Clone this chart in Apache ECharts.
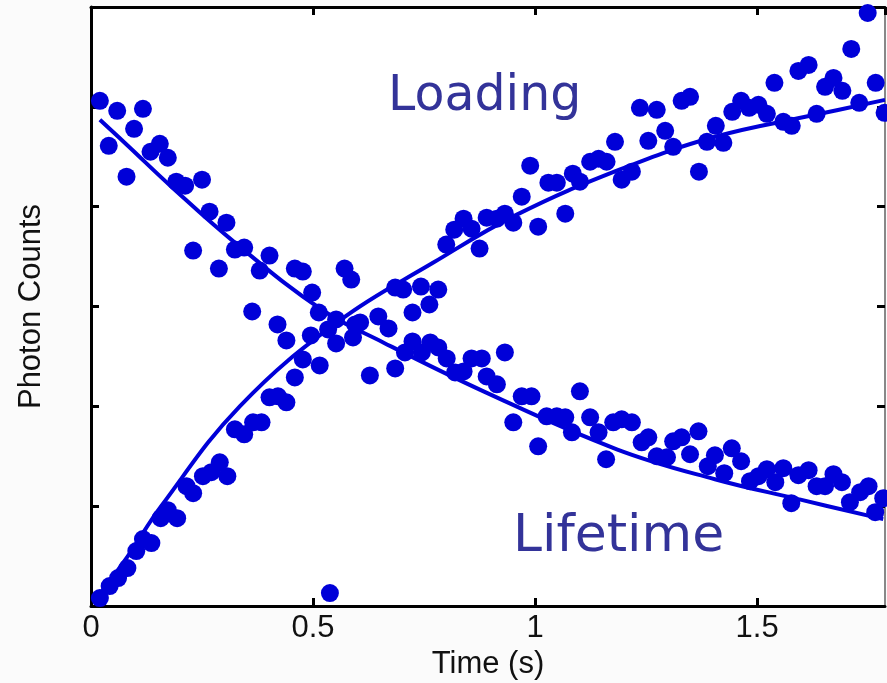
<!DOCTYPE html>
<html>
<head>
<meta charset="utf-8">
<script src="https://cdn.jsdelivr.net/npm/echarts@6/dist/echarts.min.js"></script>
<style>
  html, body { margin: 0; padding: 0; background: #fbfbfb; }
  #chart { width: 887px; height: 683px; }
</style>
</head>
<body>
<div id="chart"></div>
<script>
// measured points, [time (s), photon counts]
const loadingPoints = [
  [0.020, 0.08], [0.042, 0.20], [0.061, 0.28], [0.082, 0.38], [0.102, 0.55], [0.117, 0.67],
  [0.136, 0.63], [0.157, 0.88], [0.173, 0.96], [0.194, 0.88], [0.215, 1.20], [0.230, 1.13],
  [0.252, 1.30], [0.271, 1.34], [0.290, 1.44], [0.307, 1.30], [0.324, 1.77], [0.345, 1.72],
  [0.365, 1.84], [0.384, 1.84], [0.402, 2.09], [0.421, 2.10], [0.440, 2.04], [0.459, 2.29],
  [0.477, 2.47], [0.515, 2.41], [0.538, 0.13], [0.552, 2.63], [0.606, 2.84], [0.685, 3.19],
  [0.703, 3.17], [0.724, 2.94], [0.743, 3.20], [0.762, 3.02], [0.782, 3.17], [0.800, 3.62],
  [0.818, 3.77], [0.839, 3.88], [0.857, 3.78], [0.875, 3.58], [0.891, 3.89], [0.914, 3.88],
  [0.932, 3.93], [0.951, 3.84], [0.970, 4.10], [0.989, 4.41], [1.007, 3.80], [1.030, 4.24],
  [1.049, 4.24], [1.068, 3.93], [1.085, 4.33], [1.101, 4.25], [1.124, 4.45], [1.143, 4.48],
  [1.161, 4.45], [1.180, 4.65], [1.195, 4.27], [1.218, 4.35], [1.236, 4.99], [1.255, 4.66],
  [1.274, 4.97], [1.293, 4.76], [1.311, 4.60], [1.330, 5.06], [1.349, 5.10], [1.369, 4.35],
  [1.387, 4.65], [1.407, 4.81], [1.424, 4.64], [1.444, 4.95], [1.464, 5.06], [1.482, 4.99],
  [1.503, 5.02], [1.522, 4.93], [1.539, 5.24], [1.559, 4.85], [1.578, 4.81], [1.593, 5.36],
  [1.616, 5.42], [1.634, 4.93], [1.653, 5.20], [1.672, 5.29], [1.692, 5.16], [1.712, 5.58],
  [1.730, 5.04], [1.749, 5.94], [1.767, 5.24], [1.787, 4.94]
]

const lifetimePoints = [
  [0.020, 5.06], [0.040, 4.61], [0.059, 4.96], [0.080, 4.30], [0.097, 4.78], [0.117, 4.98],
  [0.134, 4.55], [0.155, 4.63], [0.173, 4.49], [0.192, 4.25], [0.212, 4.21], [0.230, 3.56],
  [0.250, 4.27], [0.267, 3.95], [0.288, 3.38], [0.305, 3.84], [0.324, 3.57], [0.345, 3.59],
  [0.363, 2.95], [0.380, 3.36], [0.402, 3.51], [0.420, 2.82], [0.440, 2.66], [0.459, 3.38],
  [0.477, 3.35], [0.495, 2.71], [0.498, 3.14], [0.513, 2.94], [0.534, 2.77], [0.552, 2.87],
  [0.571, 3.38], [0.586, 3.27], [0.590, 2.69], [0.595, 2.82], [0.628, 2.31], [0.647, 2.90],
  [0.670, 2.78], [0.685, 2.38], [0.707, 2.54], [0.724, 2.65], [0.745, 2.54], [0.764, 2.64],
  [0.782, 2.59], [0.801, 2.48], [0.820, 2.34], [0.839, 2.35], [0.857, 2.48], [0.880, 2.48],
  [0.891, 2.30], [0.914, 2.22], [0.932, 2.54], [0.951, 1.84], [0.970, 2.10], [0.992, 2.10],
  [1.007, 1.60], [1.026, 1.90], [1.049, 1.90], [1.068, 1.89], [1.083, 1.74], [1.101, 2.15],
  [1.124, 1.89], [1.143, 1.74], [1.160, 1.47], [1.176, 1.84], [1.195, 1.87], [1.218, 1.84],
  [1.240, 1.64], [1.255, 1.69], [1.274, 1.50], [1.297, 1.49], [1.311, 1.65], [1.330, 1.69],
  [1.349, 1.52], [1.368, 1.75], [1.389, 1.40], [1.405, 1.51], [1.426, 1.33], [1.443, 1.58],
  [1.464, 1.45], [1.484, 1.25], [1.503, 1.30], [1.522, 1.37], [1.541, 1.24], [1.559, 1.38],
  [1.577, 1.03], [1.593, 1.31], [1.616, 1.36], [1.634, 1.20], [1.653, 1.20], [1.672, 1.32],
  [1.691, 1.24], [1.709, 1.04], [1.732, 1.14], [1.751, 1.20], [1.766, 0.94], [1.784, 1.08]
]

// fitted curves
const loadingFit = [
  [0.012, 0.07], [0.083, 0.50], [0.158, 1.00], [0.335, 2.00], [0.560, 2.86], [0.771, 3.44],
  [0.959, 3.92], [1.190, 4.37], [1.405, 4.70], [1.631, 4.92], [1.788, 5.07]
]
const lifetimeFit = [
  [0.020, 4.87], [0.083, 4.61], [0.181, 4.20], [0.324, 3.64], [0.519, 2.97], [0.658, 2.64],
  [0.884, 2.15], [1.184, 1.57], [1.405, 1.27], [1.593, 1.07], [1.784, 0.87]
]

const xTicks = ['0', '0.5', '1', '1.5']
const xLabel = 'Time (s)'
const yLabel = 'Photon Counts'
const curveLabels = ['Loading', 'Lifetime']

const blue = '#0000d8'
const textFont = 'Liberation Sans, Arial, sans-serif'

const chart = echarts.init(document.getElementById('chart'))

// frame lines: onZero off so the top/right copies stay on their own edges
const frameLine = (color, width) => ({ show: true, onZero: false, lineStyle: { color, width } })
const tick = () => ({ show: true, inside: true, length: 8, lineStyle: { color: '#000', width: 3 } })

const option = {
  animation: false,
  backgroundColor: '#fbfbfb',
  grid: {
    left: 91, right: 2, top: 7, bottom: 77,
    outerBoundsMode: 'none',
    show: true, backgroundColor: '#fff', borderWidth: 0
  },
  xAxis: [
    {
      type: 'value', min: 0, max: 1.788, interval: 0.5,
      position: 'bottom',
      name: xLabel, nameLocation: 'middle', nameGap: 37,
      nameTextStyle: { fontFamily: textFont, fontSize: 31, color: '#111' },
      axisLine: frameLine('#000', 3), axisTick: tick(),
      splitLine: { show: false },
      axisLabel: {
        margin: 7, fontFamily: textFont, fontSize: 31, color: '#111',
        showMaxLabel: false,
        formatter: v => {
          const s = String(Math.round(v * 10) / 10)
          return xTicks.includes(s) ? s : ''
        }
      }
    },
    {
      type: 'value', min: 0, max: 1.788, interval: 0.5,
      position: 'top',
      axisLine: frameLine('#000', 3), axisTick: tick(),
      splitLine: { show: false },
      axisLabel: { show: false }
    }
  ],
  yAxis: [
    {
      type: 'value', min: 0, max: 6, interval: 1,
      position: 'left',
      name: yLabel, nameLocation: 'middle', nameGap: 44,
      nameTextStyle: { fontFamily: textFont, fontSize: 31, color: '#111' },
      axisLine: frameLine('#000', 3), axisTick: tick(),
      splitLine: { show: false },
      axisLabel: { show: false }
    },
    {
      type: 'value', min: 0, max: 6, interval: 1,
      position: 'right',
      axisLine: frameLine('#888', 2), axisTick: tick(),
      splitLine: { show: false },
      axisLabel: { show: false }
    }
  ],
  graphic: [
    {
      type: 'text', left: 388, top: 73,
      style: { text: curveLabels[0], font: '49px "DejaVu Sans", sans-serif', fill: '#333399' }
    },
    {
      type: 'text', left: 513, top: 511,
      style: { text: curveLabels[1], font: '52px "DejaVu Sans", sans-serif', fill: '#333399' }
    }
  ],
  series: [
    {
      name: 'Loading fit', type: 'line', data: loadingFit,
      smooth: 0.4, showSymbol: false,
      lineStyle: { color: blue, width: 4 }, z: 3
    },
    {
      name: 'Lifetime fit', type: 'line', data: lifetimeFit,
      smooth: 0.4, showSymbol: false,
      lineStyle: { color: blue, width: 4 }, z: 3
    },
    {
      name: 'Loading', type: 'scatter', data: loadingPoints,
      symbolSize: 18, itemStyle: { color: blue, opacity: 1 }, z: 4
    },
    {
      name: 'Lifetime', type: 'scatter', data: lifetimePoints,
      symbolSize: 18, itemStyle: { color: blue, opacity: 1 }, z: 4
    }
  ]
}

chart.setOption(option)
</script>
</body>
</html>
